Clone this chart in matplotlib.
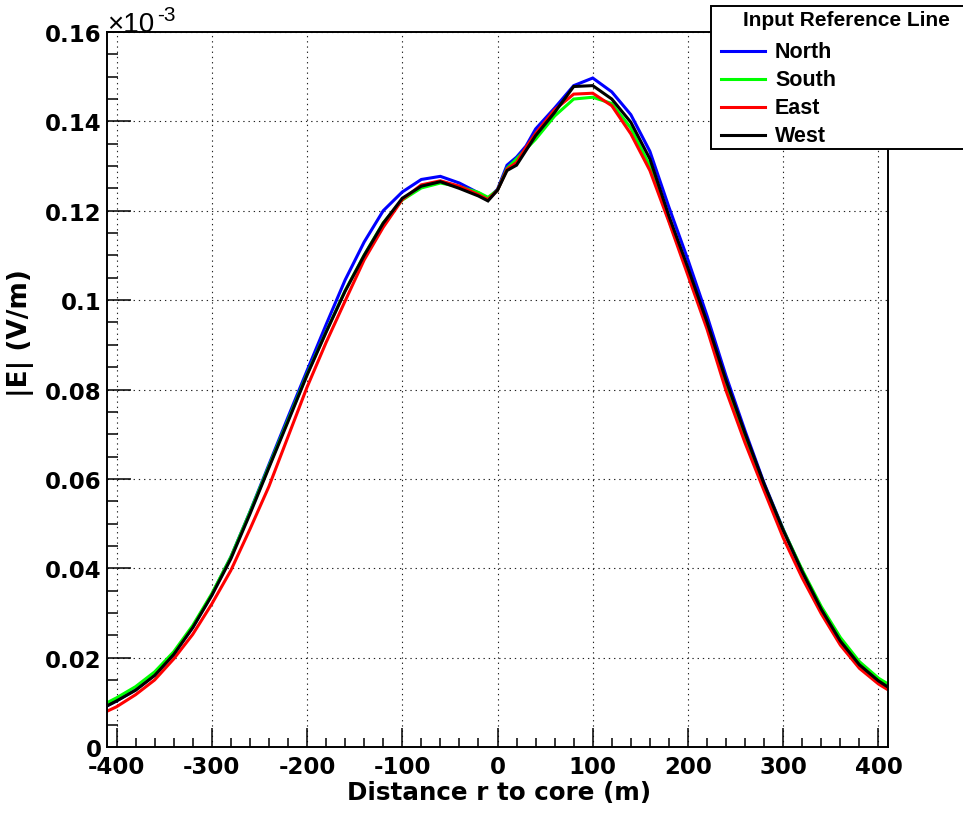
import numpy as np
from matplotlib import use
use('Agg')
from matplotlib import pyplot as plt
from matplotlib.patches import Rectangle
from matplotlib.lines import Line2D
from matplotlib.ticker import MultipleLocator, FormatStrFormatter

# distance r to core (m)
r = [-410, -400, -380, -360, -340, -320, -300, -280, -260, -240, -220, -200,
     -180, -160, -140, -120, -100, -80, -60, -40, -20, -10, 0, 10, 20, 30, 40,
     60, 80, 100, 120, 140, 160, 180, 200, 220, 240, 260, 280, 300, 320, 340,
     360, 380, 400, 410]

# |E| in units of 1e-3 V/m
north = [0.0092, 0.0103, 0.0128, 0.0161, 0.0208, 0.0268, 0.0341, 0.0425, 0.0526,
         0.0632, 0.0738, 0.0842, 0.0945, 0.1045, 0.1130, 0.1200, 0.1242, 0.1270,
         0.1277, 0.1262, 0.1240, 0.1227, 0.1248, 0.1302, 0.1320, 0.1345, 0.1383,
         0.1430, 0.1480, 0.1497, 0.1466, 0.1415, 0.1333, 0.1208, 0.1090, 0.0965,
         0.0830, 0.0707, 0.0590, 0.0487, 0.0393, 0.0308, 0.0237, 0.0184, 0.0147,
         0.0133]
south = [0.0099, 0.0110, 0.0135, 0.0168, 0.0213, 0.0272, 0.0343, 0.0425, 0.0525,
         0.0628, 0.0731, 0.0834, 0.0929, 0.1021, 0.1101, 0.1173, 0.1224, 0.1251,
         0.1262, 0.1254, 0.1241, 0.1230, 0.1246, 0.1295, 0.1316, 0.1338, 0.1360,
         0.1412, 0.1450, 0.1454, 0.1440, 0.1385, 0.1300, 0.1178, 0.1062, 0.0943,
         0.0812, 0.0694, 0.0585, 0.0486, 0.0396, 0.0314, 0.0245, 0.0191, 0.0154,
         0.0141]
east = [0.0080, 0.0090, 0.0117, 0.0150, 0.0197, 0.0252, 0.0320, 0.0395, 0.0487,
        0.0583, 0.0694, 0.0805, 0.0905, 0.0998, 0.1090, 0.1163, 0.1225, 0.1258,
        0.1267, 0.1255, 0.1236, 0.1225, 0.1246, 0.1293, 0.1308, 0.1342, 0.1373,
        0.1426, 0.1461, 0.1463, 0.1435, 0.1372, 0.1290, 0.1175, 0.1055, 0.0935,
        0.0797, 0.0680, 0.0573, 0.0468, 0.0378, 0.0298, 0.0228, 0.0176, 0.0141,
        0.0128]
west = [0.0092, 0.0103, 0.0127, 0.0160, 0.0207, 0.0267, 0.0339, 0.0421, 0.0521,
        0.0625, 0.0728, 0.0832, 0.0928, 0.1020, 0.1100, 0.1172, 0.1228, 0.1255,
        0.1265, 0.1250, 0.1233, 0.1222, 0.1246, 0.1290, 0.1302, 0.1335, 0.1368,
        0.1420, 0.1478, 0.1480, 0.1450, 0.1398, 0.1316, 0.1188, 0.1072, 0.0951,
        0.0820, 0.0701, 0.0588, 0.0485, 0.0392, 0.0308, 0.0237, 0.0184, 0.0148,
        0.0134]

names = ['North', 'South', 'East', 'West']
colors = ['#0000ff', '#00ff00', '#ff0000', '#000000']
series = [north, south, east, west]

W, H = 963, 820
plt.rcParams['axes.unicode_minus'] = False
plt.rcParams['font.family'] = 'DejaVu Sans'

fig = plt.figure(figsize=(W / 100, H / 100), dpi=100)
fig.patch.set_facecolor('white')

def fx(px):
    return px / W

def fy(py):
    return 1 - py / H

ax = fig.add_axes([fx(107), fy(748), fx(888) - fx(107), fy(33) - fy(748)])

for vals, c in zip(series, colors):
    ax.plot(r, vals, color=c, lw=2.2, solid_joinstyle='miter')

ax.set_xlim(-410, 410)
ax.set_ylim(0, 0.16)
ax.xaxis.set_major_locator(MultipleLocator(100))
ax.xaxis.set_minor_locator(MultipleLocator(20))
ax.yaxis.set_major_locator(MultipleLocator(0.02))
ax.yaxis.set_minor_locator(MultipleLocator(0.005))
ax.yaxis.set_major_formatter(FormatStrFormatter('%g'))

ax.grid(True, which='major', color='#222222', lw=0.8, linestyle=(0, (1.2, 3.5)))
ax.tick_params(axis='both', which='both', direction='in', top=False, right=False,
               width=1.1, labelsize=16.5)
ax.tick_params(axis='x', which='major', length=13.5, pad=6)
ax.tick_params(axis='x', which='minor', length=6.5)
ax.tick_params(axis='y', which='major', length=17, pad=4)
ax.tick_params(axis='y', which='minor', length=8)
for lab in ax.get_xticklabels() + ax.get_yticklabels():
    lab.set_fontweight('bold')
for sp in ax.spines.values():
    sp.set_linewidth(1.4)

# axis titles
fig.text(fx(499), fy(800), 'Distance r to core (m)', ha='center', va='baseline',
         fontsize=17.7, fontweight='bold')
fig.text(fx(21), fy(333), '|E| (V/m)', ha='center', va='center', rotation=90,
         fontsize=19, fontweight='bold')

# exponent label
fig.text(fx(107), fy(32), '\u00d710', ha='left', va='baseline', fontsize=20,
         family='Liberation Sans')
fig.text(fx(157), fy(21), '-3', ha='left', va='baseline', fontsize=15,
         family='Liberation Sans')

# legend box
fig.add_artist(Rectangle((fx(711), fy(150)), fx(985) - fx(711), fy(7) - fy(150),
                         transform=fig.transFigure, facecolor='white',
                         edgecolor='black', lw=1.4, zorder=5))
fig.text(fx(846), fy(21), 'Input Reference Line', ha='center', va='center',
         fontsize=15, fontweight='bold', family='Liberation Sans', zorder=6)
for i, (nm, c) in enumerate(zip(names, colors)):
    yy = 52 + 28 * i
    fig.add_artist(Line2D([fx(721), fx(765)], [fy(yy), fy(yy)], color=c, lw=2.2,
                          transform=fig.transFigure, zorder=6))
    fig.text(fx(775), fy(yy), nm, ha='left', va='center', fontsize=15.5,
             fontweight='bold', family='Liberation Sans', zorder=6)

fig.savefig('out.png', dpi=100)
